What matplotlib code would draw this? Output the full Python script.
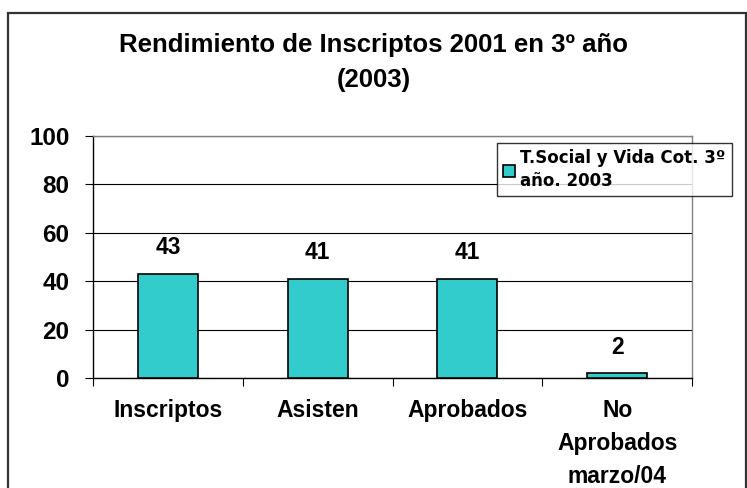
import matplotlib
matplotlib.use("Agg")
import matplotlib.pyplot as plt
from matplotlib.patches import Rectangle

categories = ["Inscriptos", "Asisten", "Aprobados", "No\nAprobados\nmarzo/04"]
values = [43, 41, 41, 2]
series_name = "T.Social y Vida Cot. 3º\naño. 2003"
title = "Rendimiento de Inscriptos 2001 en 3º año\n(2003)"
yticks = [0, 20, 40, 60, 80, 100]

plt.rcParams['font.family'] = ['Liberation Sans', 'DejaVu Sans']

W, H = 747, 488
fig = plt.figure(figsize=(W / 100, H / 100), dpi=100)
ax = fig.add_axes([93 / W, 1 - 378 / H, (692 - 93) / W, (378 - 136) / H])

x = list(range(len(categories)))
bars = ax.bar(x, values, width=0.4, color="#33CCCC", edgecolor="black", linewidth=1.2,
              label=series_name, zorder=3)
for xi, v in zip(x, values):
    ax.text(xi, v + 6, str(v), ha="center", va="bottom", fontsize=16.4, fontweight="bold")

ax.set_xlim(-0.5, len(categories) - 0.5)
ax.set_ylim(0, 100)
ax.set_yticks(yticks)
ax.set_yticklabels([str(t) for t in yticks], fontsize=17.5, fontweight="bold")
ax.yaxis.grid(True, color="black", linewidth=0.8, zorder=0)
ax.set_axisbelow(True)

ax.set_xticks([i - 0.5 for i in range(len(categories) + 1)], minor=False)
ax.set_xticklabels([""] * (len(categories) + 1))
ax.set_xticks(x, minor=True)
ax.set_xticklabels(categories, minor=True, fontsize=16.5, fontweight="bold", linespacing=1.55)
ax.tick_params(axis="x", which="minor", length=0, pad=15)
ax.tick_params(axis="x", which="major", length=6, direction="out", color="black")
ax.tick_params(axis="y", length=6, direction="out", pad=11)

ax.spines["left"].set_color("black")
ax.spines["bottom"].set_color("black")
ax.spines["top"].set_color("#808080")
ax.spines["right"].set_color("#808080")
for s in ax.spines.values():
    s.set_linewidth(1.0)

fig.text(0.5, 1 - 62.5 / H, title, ha="center", va="center",
         fontsize=18.5, fontweight="bold", linespacing=1.57)

leg = ax.legend(loc="upper left", bbox_to_anchor=(497 / W, 1 - 143 / H),
                bbox_transform=fig.transFigure,
                prop={"family": ["DejaVu Sans"], "weight": "bold", "size": 12},
                frameon=True, fancybox=False, handlelength=0.75, handleheight=0.75,
                handletextpad=0.3, borderpad=0.35, borderaxespad=0, labelspacing=0.3)
leg.get_frame().set_edgecolor("black")
leg.get_frame().set_linewidth(1.0)
for t in leg.get_texts():
    t.set_linespacing(1.4)

border = Rectangle((8 / W, -0.05), (746 - 8) / W, 1 - 13 / H + 0.05, transform=fig.transFigure,
                   fill=False, edgecolor="#333333", linewidth=1.6, clip_on=False)
fig.patches.append(border)

fig.savefig("out.png", dpi=100)
